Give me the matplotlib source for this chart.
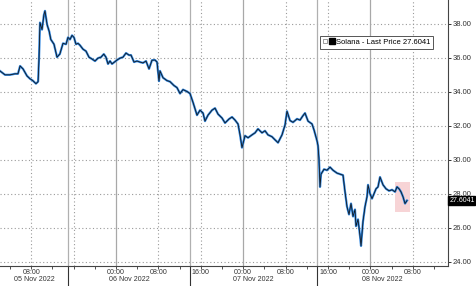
import matplotlib
matplotlib.use("Agg")
import matplotlib.pyplot as plt
from matplotlib.patches import Rectangle
from matplotlib.lines import Line2D
from matplotlib.legend_handler import HandlerTuple
import numpy as np

plt.rcParams['font.family'] = ['Liberation Sans', 'DejaVu Sans']

# hours since 05 Nov 2022 00:00, Solana last price
hours = [2.1, 3.06, 4.0, 4.94, 5.5, 5.9, 6.45, 7.2, 7.77, 8.3, 8.9, 9.3, 9.47, 9.66,
         10.04, 10.4, 10.6, 11.0, 11.4, 11.7, 12.3, 12.87, 13.4, 14.0, 14.57, 14.94,
         15.32, 15.7, 16.07, 16.45, 16.83, 17.2, 17.77, 18.34, 18.9, 19.47, 20.04,
         20.6, 21.17, 21.7, 22.1, 22.49, 22.87, 23.25, 24.19, 24.75, 25.32, 25.89,
         26.45, 26.83, 27.4, 27.96, 28.53, 29.09, 29.66, 30.23, 30.79, 31.36, 31.74,
         32.11, 32.3, 32.87, 33.62, 34.19, 34.94, 35.5, 36.08, 36.64, 37.4, 37.96,
         38.53, 39.28, 39.85, 40.42, 40.79, 41.36, 42.11, 42.68, 43.25, 44.0, 44.57,
         45.32, 45.89, 46.45, 47.02, 47.4, 47.77, 48.34, 48.91, 49.66, 50.23, 50.79,
         51.55, 52.11, 52.68, 53.43, 54.0, 54.57, 55.32, 55.89, 56.26, 56.83, 57.4,
         58.15, 58.72, 59.28, 59.66, 60.23, 60.98, 61.36, 61.92, 62.11, 62.3, 62.49,
         62.68, 63.25, 63.81, 64.38, 64.94, 65.7, 66.26, 66.83, 67.21, 67.58, 67.96,
         68.34, 68.72, 69.09, 69.28, 69.66, 70.04, 70.23, 70.6, 70.98, 71.36, 71.55,
         71.92, 72.3, 72.68, 73.06, 73.43, 73.81, 74.38, 74.94, 75.51, 76.08, 76.64,
         77.02, 77.4, 77.77, 78.15, 78.53, 78.91]
price = [35.22, 34.99, 34.99, 35.05, 35.05, 35.51, 35.34, 34.93, 34.76, 34.65, 34.47,
         34.59, 35.92, 38.06, 37.65, 38.52, 38.75, 37.94, 37.54, 37.07, 36.79, 36.03,
         36.21, 36.84, 36.79, 37.19, 37.07, 37.31, 37.19, 36.79, 36.84, 36.73, 36.50,
         36.38, 36.03, 35.92, 35.80, 35.97, 36.03, 36.21, 36.03, 35.63, 35.80, 35.63,
         35.86, 35.97, 36.03, 36.27, 36.15, 36.15, 35.74, 35.80, 35.74, 35.69, 35.80,
         35.34, 35.85, 35.86, 35.74, 34.62, 35.22, 34.82, 34.65, 34.59, 34.36, 34.24,
         33.89, 34.12, 34.01, 33.89, 33.37, 32.62, 32.91, 32.74, 32.27, 32.62, 32.91,
         33.03, 32.68, 32.45, 32.16, 32.39, 32.51, 32.33, 32.10, 31.46, 30.71, 31.41,
         31.29, 31.46, 31.58, 31.81, 31.58, 31.70, 31.46, 31.35, 31.17, 31.00, 31.46,
         32.04, 32.85, 32.30, 32.20, 32.40, 32.33, 32.59, 32.74, 32.27, 32.10, 31.75,
         31.12, 30.83, 30.02, 28.40, 29.15, 29.44, 29.38, 29.56, 29.38, 29.21, 29.15,
         29.09, 28.11, 27.24, 26.78, 27.42, 26.66, 27.07, 26.09, 26.49, 25.51, 24.93,
         26.37, 27.24, 27.82, 28.52, 28.00, 27.71, 28.00, 28.29, 28.40, 28.98, 28.52,
         28.29, 28.17, 28.23, 28.11, 28.40, 28.29, 28.11, 27.82, 27.42, 27.60]

last_price = 27.6041
y_ticks = [24, 26, 28, 30, 32, 34, 36, 38]
hour_ticks = [8, 16, 24, 32, 40, 48, 56, 64, 72, 80]
hour_labels = ["08:00", "", "00:00", "08:00", "16:00", "00:00", "08:00", "16:00", "00:00", "08:00"]
day_seps = [15, 38, 62]
day_labels = ["05 Nov 2022", "06 Nov 2022", "07 Nov 2022", "08 Nov 2022"]
highlight = (76.6, 79.5, 26.95, 28.69)

fig = plt.figure(figsize=(4.76, 2.86), dpi=100)
ax = fig.add_axes([0.0, 0.07, 0.9412, 0.93])
x0, x1 = 2.113, 86.64
ax.set_xlim(x0, x1)
ax.set_ylim(23.75, 39.39)

gcol = '#9a9a9a'
for t in y_ticks:
    ax.axhline(t, color=gcol, lw=0.8, ls=(0, (1, 2.2)), zorder=1)
for t in hour_ticks:
    if t % 24 == 0:
        ax.axvline(t, color='#a8a8a8', lw=0.9, zorder=1)
    else:
        ax.axvline(t, color=gcol, lw=0.8, ls=(0, (1, 2.2)), zorder=1)
for s in day_seps:
    ax.plot([s, s], [0, 1], transform=ax.get_xaxis_transform(), color='#b0b0b0',
            lw=0.9, zorder=1)
    ax.plot([s, s], [0, -0.08], transform=ax.get_xaxis_transform(), color='#333333',
            lw=0.8, clip_on=False)

ax.add_patch(Rectangle((highlight[0], highlight[2]), highlight[1] - highlight[0],
                       highlight[3] - highlight[2], facecolor='#f7d4d6', edgecolor='none',
                       zorder=2))

ax.plot(hours, price, color='#2f86e0', lw=1.6, zorder=3)
ax.plot(hours, price, color='#111111', lw=0.55, zorder=4)

for side in ['left', 'top']:
    ax.spines[side].set_visible(False)
ax.spines['right'].set_color('#444444')
ax.spines['bottom'].set_color('#444444')
ax.spines['right'].set_linewidth(0.8)
ax.spines['bottom'].set_linewidth(0.8)

ax.yaxis.tick_right()
ax.set_yticks(y_ticks)
ax.set_yticklabels(["%.2f" % t for t in y_ticks])
ax.tick_params(axis='y', direction='out', length=2.5, width=0.7, pad=0.8,
               labelsize=5.5, colors='#333333')
ax.set_xticks(hour_ticks)
ax.set_xticklabels(hour_labels)
ax.set_xticks(np.arange(4, 87, 4), minor=True)
ax.tick_params(axis='x', which='both', direction='out', length=1.8, width=0.6, pad=0.2,
               labelsize=5.1, colors='#333333')

edges = [x0] + day_seps + [x1]
for i, lab in enumerate(day_labels):
    ax.text((edges[i] + edges[i + 1]) / 2, -0.0655, lab, transform=ax.get_xaxis_transform(),
            ha='center', va='bottom', fontsize=5.1, color='#333333')

ax.annotate("%.4f" % last_price, xy=(1.0, last_price), xycoords=('axes fraction', 'data'),
            xytext=(0.9, 0), textcoords='offset points', ha='left', va='center',
            fontsize=5.0, color='white', annotation_clip=False,
            bbox=dict(boxstyle='square,pad=0.12', facecolor='black', edgecolor='black'))

h_small = Line2D([], [], marker='s', ls='none', markersize=3, markerfacecolor='white',
                 markeredgecolor='#777777', markeredgewidth=0.5)
h_big = Line2D([], [], marker='s', ls='none', markersize=5, color='black')
leg = ax.legend([(h_small, h_big)], ["Solana - Last Price %.4f" % last_price],
                handler_map={tuple: HandlerTuple(ndivide=None, pad=0.3)},
                loc='upper left', bbox_to_anchor=(0.714, 0.866), fontsize=5.5,
                fancybox=False, framealpha=1, edgecolor='#555555', handlelength=1.4,
                handletextpad=0.3, borderpad=0.4, borderaxespad=0)
leg.get_frame().set_linewidth(0.7)

fig.savefig("out.png", dpi=100)
